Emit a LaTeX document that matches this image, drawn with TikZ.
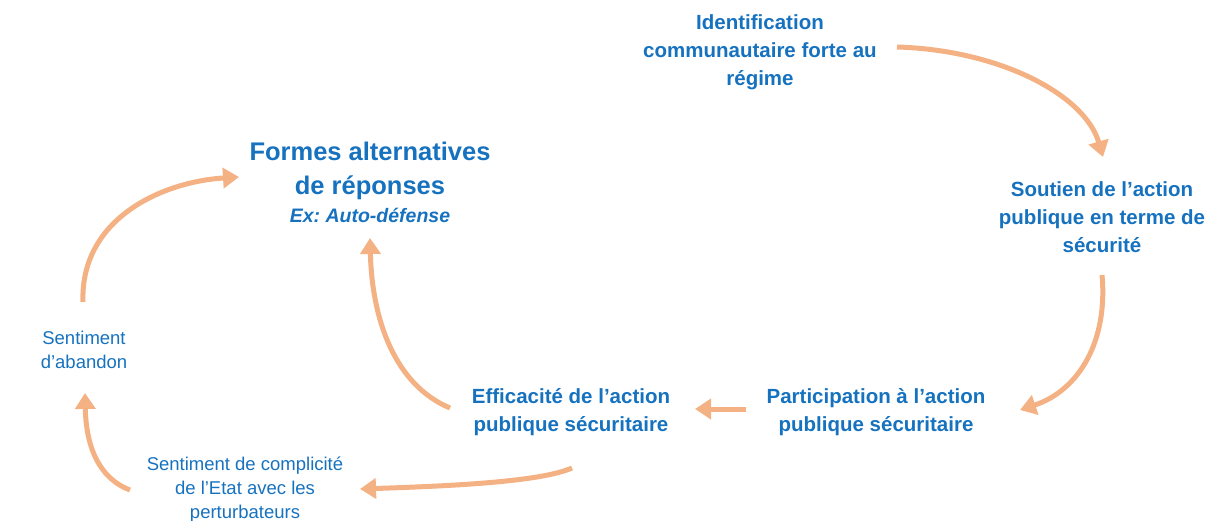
\documentclass[tikz,border=0pt]{standalone}
\usepackage{fontspec}
\setmainfont{Liberation Sans}
\usetikzlibrary{arrows.meta,calc}
\definecolor{txtblue}{HTML}{1672BF}
\definecolor{arrorange}{HTML}{F4B183}
\frenchspacing
\begin{document}
\begin{tikzpicture}[x=1pt,y=-1pt,
  main/.style={text=txtblue,align=center,font=\fontsize{20.5}{28}\selectfont\bfseries,inner sep=0pt},
  minor/.style={text=txtblue,align=center,font=\fontsize{18.5}{24}\selectfont,inner sep=0pt},
  flow/.style={draw=arrorange,line width=5pt,-{Triangle[length=16pt,width=20pt]}}]
\useasboundingbox (0,0) rectangle (1205,520);
\clip (0,0) rectangle (1205,520);
\node[main] (ident) at (760,52) {Identification\\communautaire forte au\\régime};
\node[main] (soutien) at (1102,217) {Soutien de l’action\\publique en terme de\\sécurité};
\node[main] (partic) at (876,412) {Participation à l’action\\publique sécuritaire};
\node[main] (effic) at (571,412) {Efficacité de l’action\\publique sécuritaire};
\node[text=txtblue,align=center,inner sep=0pt,font=\fontsize{25.5}{34}\selectfont\bfseries] (formes) at (370,182)
  {Formes alternatives\\de réponses\\[-6pt]{\fontsize{19.5}{24}\selectfont\itshape Ex: Auto-défense}};
\node[minor] (aband) at (84,350) {Sentiment\\d’abandon};
\node[minor] (compl) at (245,490) {Sentiment de complicité\\de l’Etat avec les\\perturbateurs};
% connector ends, placed relative to their nodes
\coordinate (a1s) at ($(ident.center)+(137,-5)$);
\coordinate (a1e) at ($(soutien.center)+(1,-60)$);
\coordinate (a2s) at ($(soutien.center)+(0,58)$);
\coordinate (a2e) at ($(partic.center)+(144,-2)$);
\coordinate (a3s) at ($(partic.center)+(-130,-3)$);
\coordinate (a3e) at ($(effic.center)+(124,-3)$);
\coordinate (a4s) at ($(effic.center)+(-121,-4)$);
\coordinate (a4e) at ($(formes.center)+(0,56)$);
\coordinate (a5s) at ($(aband.center)+(-1,-48)$);
\coordinate (a5e) at ($(formes.center)+(-131,-5)$);
\coordinate (a6s) at ($(effic.center)+(1,56)$);
\coordinate (a6e) at ($(compl.center)+(115,-1)$);
\coordinate (a7s) at ($(compl.center)+(-115,0)$);
\coordinate (a7e) at ($(aband.center)+(1,43)$);
\draw[flow] (a1s) .. controls (1000,50) and (1085,95) .. (a1e);
\draw[flow] (a2s) .. controls (1108,340) and (1080,390) .. (a2e);
\draw[flow] (a3s) -- (a3e);
\draw[flow] (a4s) .. controls (395,385) and (372,320) .. (a4e);
\draw[flow] (a5s) .. controls (80,220) and (160,182) .. (a5e);
\draw[flow] (a6s) .. controls (540,482) and (450,486) .. (a6e);
\draw[flow] (a7s) .. controls (98,478) and (86,445) .. (a7e);
\end{tikzpicture}
\end{document}
